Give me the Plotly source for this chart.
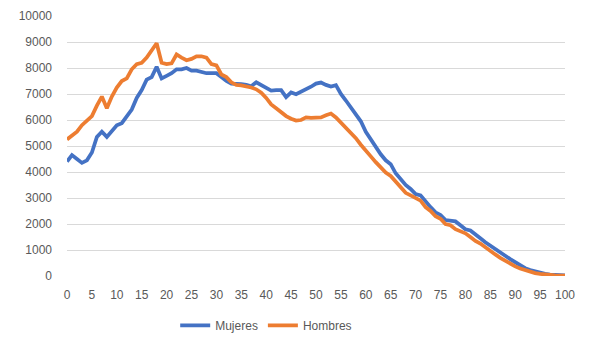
import plotly.graph_objects as go

edad = list(range(0, 101))

mujeres = [4400, 4650, 4500, 4350, 4450, 4750, 5350, 5550, 5350, 5600,
           5800, 5880, 6130, 6400, 6850, 7150, 7550, 7650, 8050, 7600,
           7700, 7800, 7950, 7950, 8000, 7900, 7900, 7850, 7800, 7800,
           7800, 7650, 7500, 7400, 7400, 7380, 7350, 7300, 7450, 7350,
           7220, 7130, 7150, 7150, 6880, 7060, 6990, 7090, 7150, 7280,
           7400, 7440, 7350, 7290, 7340, 7000, 6750, 6500, 6250, 5950,
           5550, 5250, 4950, 4680, 4450, 4300, 3950, 3700, 3500, 3350,
           3150, 3100, 2850, 2650, 2450, 2350, 2150, 2120, 2100, 1950,
           1800, 1750, 1620, 1450, 1300, 1180, 1050, 900, 780, 650,
           520, 420, 300, 230, 170, 120, 80, 55, 40, 30, 20]

hombres = [5250, 5400, 5550, 5800, 5980, 6150, 6550, 6900, 6450, 6900,
           7250, 7500, 7600, 7950, 8150, 8200, 8400, 8650, 8950, 8200,
           8150, 8180, 8520, 8400, 8300, 8350, 8450, 8450, 8400, 8150,
           8100, 7750, 7650, 7450, 7350, 7330, 7300, 7250, 7180, 7050,
           6850, 6600, 6450, 6300, 6150, 6050, 5980, 6000, 6100, 6080,
           6080, 6100, 6180, 6250, 6100, 5900, 5750, 5500, 5300, 5050,
           4850, 4600, 4380, 4200, 3980, 3850, 3650, 3450, 3200, 3100,
           2980, 2900, 2650, 2500, 2300, 2200, 2000, 1950, 1800, 1720,
           1640, 1500, 1350, 1250, 1100, 950, 830, 700, 580, 480,
           370, 290, 220, 150, 110, 80, 50, 30, 20, 10, 10]

x_ticks = list(range(0, 101, 5))
y_ticks = list(range(0, 10001, 1000))
y_labels = [str(v) for v in y_ticks]

fig = go.Figure()
fig.add_trace(go.Scatter(x=edad, y=mujeres, mode="lines", name="Mujeres",
                         line=dict(color="#4472C4", width=3.75)))
fig.add_trace(go.Scatter(x=edad, y=hombres, mode="lines", name="Hombres",
                         line=dict(color="#ED7D31", width=3.75)))

fig.update_layout(
    width=583, height=335,
    margin=dict(l=59, r=26, t=8, b=67, autoexpand=False),
    paper_bgcolor="white", plot_bgcolor="white",
    font=dict(family="Liberation Sans, Arial, sans-serif", size=12, color="#595959"),
    showlegend=True,
    legend=dict(orientation="h", x=0.40, xanchor="center", y=-0.19, yanchor="middle",
                font=dict(size=12, color="#595959"), itemwidth=30),
    xaxis=dict(range=[0, 100], tickvals=x_ticks, showgrid=False, zeroline=False,
               showline=False, ticks="", automargin=False, ticklabelstandoff=10,
               tickfont=dict(size=12, color="#595959")),
    yaxis=dict(range=[0, 10000], tickvals=y_ticks, ticktext=y_labels, showgrid=True,
               gridcolor="#D9D9D9", gridwidth=1, zeroline=False, showline=False,
               ticks="", automargin=False, ticklabelstandoff=14,
               tickfont=dict(size=12, color="#595959")),
)

fig.write_html("out.html")
